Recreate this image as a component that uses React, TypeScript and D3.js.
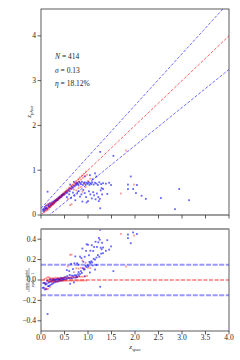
import React from 'react';
import * as d3 from 'd3';

// spectroscopic / photometric redshift pairs
const blueSpec = [
  0.04, 0.05, 0.06, 0.07, 0.08, 0.09, 0.10, 0.11, 0.12, 0.13, 0.14, 0.15, 0.16, 0.17, 0.18, 0.19,
  0.20, 0.21, 0.22, 0.23, 0.24, 0.25, 0.26, 0.27, 0.28, 0.29, 0.30, 0.31, 0.32, 0.33, 0.34, 0.35,
  0.36, 0.37, 0.38, 0.39, 0.40, 0.41, 0.42, 0.43, 0.44, 0.45, 0.46, 0.47, 0.48, 0.49, 0.50, 0.52,
  0.53, 0.55, 0.56, 0.58, 0.60, 0.61, 0.63, 0.65, 0.66, 0.68, 0.70, 0.72, 0.74, 0.75, 0.77, 0.79,
  0.81,
  0.62, 0.70, 0.76, 0.80, 0.83, 0.85, 0.87, 0.89, 0.91, 0.93, 0.95, 0.97, 0.99, 1.01, 1.03, 1.05,
  1.07, 1.09, 1.12, 1.15, 1.18, 1.21, 1.24, 1.28, 1.32, 1.38, 1.45,
  1.04, 1.15, 1.18, 1.26, 1.54, 0.93, 1.10,
  0.55, 0.60, 0.64, 0.68, 0.71, 0.73, 0.77, 0.80, 0.83, 0.86, 0.88, 0.90, 0.93, 0.96, 0.97, 1.00,
  1.02, 1.05, 1.08, 1.11, 1.13, 1.16, 1.19, 1.22, 1.23, 1.25, 1.27, 1.29, 1.30, 1.26, 1.32, 1.41,
  1.49,
  1.85, 1.91, 1.85, 1.96, 2.04, 2.02, 2.14, 2.23, 2.55, 2.94, 3.15, 2.85,
];
const bluePhot = [
  0.12, 0.08, 0.14, 0.10, 0.18, 0.13, 0.15, 0.21, 0.16, 0.14, 0.52, 0.22, 0.19, 0.24, 0.20, 0.18,
  0.26, 0.23, 0.22, 0.28, 0.25, 0.24, 0.30, 0.28, 0.27, 0.32, 0.30, 0.33, 0.31, 0.35, 0.33, 0.36,
  0.34, 0.39, 0.37, 0.38, 0.41, 0.39, 0.42, 0.40, 0.45, 0.43, 0.44, 0.47, 0.45, 0.48, 0.46, 0.51,
  0.49, 0.53, 0.50, 0.55, 0.57, 0.53, 0.60, 0.58, 0.63, 0.61, 0.66, 0.64, 0.70, 0.67, 0.72, 0.69,
  0.74,
  0.68, 0.74, 0.70, 0.66, 0.72, 0.69, 0.74, 0.67, 0.71, 0.73, 0.68, 0.72, 0.70, 0.74, 0.67, 0.71,
  0.69, 0.73, 0.68, 0.72, 0.70, 0.67, 0.73, 0.69, 0.71, 0.70, 0.72,
  0.89, 0.93, 0.86, 1.41, 1.32, 0.86, 0.80,
  0.40, 0.46, 0.38, 0.50, 0.43, 0.33, 0.48, 0.53, 0.41, 0.46, 0.30, 0.56, 0.49, 0.40, 0.28, 0.31,
  0.53, 0.46, 0.37, 0.51, 0.44, 0.35, 0.48, 0.40, 0.31, 0.36, 0.55, 0.60, 0.46, 0.15, 0.58, 0.47,
  0.67,
  0.68, 0.86, 0.58, 0.58, 0.67, 0.49, 0.43, 0.36, 0.38, 0.58, 0.33, 0.13,
];
const redSpec = [
  0.07, 0.09, 0.10, 0.11, 0.12, 0.13, 0.14, 0.15, 0.16, 0.17, 0.18, 0.19, 0.20, 0.21, 0.22, 0.23,
  0.24, 0.25, 0.26, 0.27, 0.28, 0.30, 0.31, 0.32, 0.34, 0.35, 0.36, 0.38, 0.39, 0.41, 0.42, 0.44,
  0.45, 0.47, 0.48, 0.50, 0.51, 0.53, 0.55, 0.56, 0.58, 0.60, 0.62, 0.64, 0.65, 0.67, 0.69, 0.71,
  0.73, 0.75, 0.77, 0.79, 0.81, 0.83, 0.85, 0.87, 0.89, 0.91, 0.94, 0.96, 0.98,
  0.62, 0.65, 0.57, 0.75, 0.80, 0.85, 0.92, 0.95, 1.00, 1.05, 0.70, 0.88, 1.70, 1.98, 1.81,
];
const redPhot = [
  0.06, 0.12, 0.19, 0.09, 0.22, 0.13, 0.11, 0.25, 0.17, 0.14, 0.20, 0.27, 0.18, 0.22, 0.20, 0.25,
  0.23, 0.27, 0.24, 0.29, 0.26, 0.31, 0.28, 0.34, 0.32, 0.37, 0.34, 0.39, 0.36, 0.42, 0.40, 0.45,
  0.42, 0.48, 0.46, 0.51, 0.47, 0.54, 0.52, 0.57, 0.54, 0.61, 0.58, 0.65, 0.61, 0.68, 0.64, 0.72,
  0.68, 0.76, 0.72, 0.80, 0.75, 0.84, 0.79, 0.88, 0.83, 0.92, 0.87, 0.97, 0.90,
  0.22, 0.24, 0.36, 0.55, 0.60, 0.63, 0.70, 0.62, 0.76, 0.81, 0.57, 0.52, 0.48, 0.68, 1.44,
];

const statLines = ['N = 414', 'σ = 0.13', 'η = 18.12%'];
const xTicks = [0, 0.5, 1, 1.5, 2, 2.5, 3, 3.5, 4];
const topYTicks = [0, 1, 2, 3, 4];
const botYTicks = [-0.4, -0.2, 0, 0.2, 0.4];
const outlierBand = 0.15;

const W = 240;
const H = 360;
const font = '"Liberation Serif", "DejaVu Serif", serif';

const App = () => {
  const left = 41, right = 229;
  const top1 = 9, bot1 = 215;
  const top2 = 229, bot2 = 331;

  const x = d3.scaleLinear().domain([0, 4]).range([left, right]);
  const y1 = d3.scaleLinear().domain([0, 4.6]).range([bot1, top1]);
  const y2 = d3.scaleLinear().domain([-0.5, 0.5]).range([bot2, top2]);

  const blue = blueSpec.map((s, i) => ({ s, p: bluePhot[i] }));
  const red = redSpec.map((s, i) => ({ s, p: redPhot[i] }));
  const resid = (d: { s: number; p: number }) => (d.s - d.p) / (d.s + 1);

  const line = d3.line<number>().x(d => x(d));
  const grid = d3.range(0, 4.01, 0.05);
  const pathTop = (f: (z: number) => number) =>
    line.y(d => y1(f(d)))(grid) as string;

  const fmt = (v: number) => (v < 0 ? '\u2212' : '') + Math.abs(v).toFixed(1);

  const marks = (data: { s: number; p: number }[], yv: (d: any) => number, color: string, op: number) =>
    data.map((d, i) => (
      <rect key={i} x={x(d.s) - 0.9} y={yv(d) - 0.9} width={1.8} height={1.8} fill={color} fillOpacity={op} />
    ));

  return (
    <svg width={W} height={H} style={{ position: 'absolute', left: 0, top: 0, background: '#fff' }}
      fontFamily={font}>
      <defs>
        <clipPath id="c1"><rect x={left} y={top1} width={right - left} height={bot1 - top1} /></clipPath>
        <clipPath id="c2"><rect x={left} y={top2} width={right - left} height={bot2 - top2} /></clipPath>
      </defs>

      {/* top panel */}
      <g clipPath="url(#c1)">
        <path d={pathTop(z => z + outlierBand * (1 + z))} fill="none" stroke="#0000ff" strokeOpacity={0.65}
          strokeWidth={0.9} strokeDasharray="3,1.6" />
        <path d={pathTop(z => z - outlierBand * (1 + z))} fill="none" stroke="#0000ff" strokeOpacity={0.65}
          strokeWidth={0.9} strokeDasharray="3,1.6" />
        <path d={pathTop(z => z)} fill="none" stroke="#ff0000" strokeOpacity={0.7}
          strokeWidth={0.9} strokeDasharray="3,1.6" />
        {marks(blue, d => y1(d.p), '#0000ff', 0.6)}
        {marks(red, d => y1(d.p), '#ff0000', 0.4)}
      </g>
      <rect x={left} y={top1} width={right - left} height={bot1 - top1} fill="none" stroke="#333" strokeWidth={0.8} />
      <line x1={left} x2={right} y1={bot1} y2={bot1} stroke="#999" strokeWidth={1.6} />
      {topYTicks.map(t => (
        <g key={t}>
          <line x1={left - 3.5} x2={left} y1={y1(t)} y2={y1(t)} stroke="#333" strokeWidth={0.8} />
          <text x={left - 5} y={y1(t)} dy="0.33em" textAnchor="end" fontSize={7.5} fill="#222">{t}</text>
        </g>
      ))}
      {xTicks.map(t => (
        <line key={t} x1={x(t)} x2={x(t)} y1={bot1} y2={bot1 + 3.5} stroke="#333" strokeWidth={0.8} />
      ))}
      {statLines.map((s, i) => {
        const [a, b] = s.split(' = ');
        return (
          <text key={i} x={55} y={57 + i * 13.5} dy="0.33em" fontSize={7.5} fill="#222">
            <tspan fontStyle="italic">{a}</tspan> = {b}
          </text>
        );
      })}
      <text transform={`translate(31, ${(top1 + bot1) / 2}) rotate(-90)`} textAnchor="middle" fontSize={7} fill="#222">
        <tspan fontStyle="italic">z</tspan>
        <tspan fontSize={5} dy={1.5} fontStyle="italic">phot</tspan>
      </text>

      {/* bottom panel */}
      <g clipPath="url(#c2)">
        {[outlierBand, -outlierBand].map(v => (
          <line key={v} x1={left} x2={right} y1={y2(v)} y2={y2(v)} stroke="#0000ff" strokeOpacity={0.4}
            strokeWidth={2} strokeDasharray="5,1.6" />
        ))}
        <line x1={left} x2={right} y1={y2(0)} y2={y2(0)} stroke="#ff0000" strokeOpacity={0.8}
          strokeWidth={1} strokeDasharray="4,1.6" />
        {marks(blue, d => y2(resid(d)), '#0000ff', 0.6)}
        {marks(red, d => y2(resid(d)), '#ff0000', 0.4)}
      </g>
      <rect x={left} y={top2} width={right - left} height={bot2 - top2} fill="none" stroke="#333" strokeWidth={0.8} />
      <line x1={left} x2={right} y1={top2} y2={top2} stroke="#999" strokeWidth={1.6} />
      {botYTicks.map(t => (
        <g key={t}>
          <line x1={left - 3.5} x2={left} y1={y2(t)} y2={y2(t)} stroke="#333" strokeWidth={0.8} />
          <text x={left - 5} y={y2(t)} dy="0.33em" textAnchor="end" fontSize={7.5} fill="#222">{fmt(t)}</text>
        </g>
      ))}
      {xTicks.map(t => (
        <g key={t}>
          <line x1={x(t)} x2={x(t)} y1={bot2} y2={bot2 + 3.5} stroke="#333" strokeWidth={0.8} />
          <text x={x(t)} y={340} textAnchor="middle" fontSize={7.5} fill="#222">{t.toFixed(1)}</text>
        </g>
      ))}
      <text x={(left + right) / 2} y={349} textAnchor="middle" fontSize={7} fill="#222">
        <tspan fontStyle="italic">z</tspan>
        <tspan fontSize={5} dy={1.5} fontStyle="italic">spec</tspan>
      </text>
      <g transform={`translate(29, ${(top2 + bot2) / 2}) rotate(-90)`} fill="#222" fontSize={4.5}>
        <text x={0} y={-1.5} textAnchor="middle">
          <tspan fontStyle="italic">z</tspan><tspan fontSize={3.3} fontStyle="italic">spec</tspan>
          <tspan> − </tspan>
          <tspan fontStyle="italic">z</tspan><tspan fontSize={3.3} fontStyle="italic">phot</tspan>
        </text>
        <line x1={-12} x2={12} y1={0} y2={0} stroke="#222" strokeWidth={0.4} />
        <text x={0} y={4.5} textAnchor="middle">
          <tspan fontStyle="italic">z</tspan><tspan fontSize={3.3} fontStyle="italic">spec</tspan>
          <tspan> + 1</tspan>
        </text>
      </g>
    </svg>
  );
};

export default App;
